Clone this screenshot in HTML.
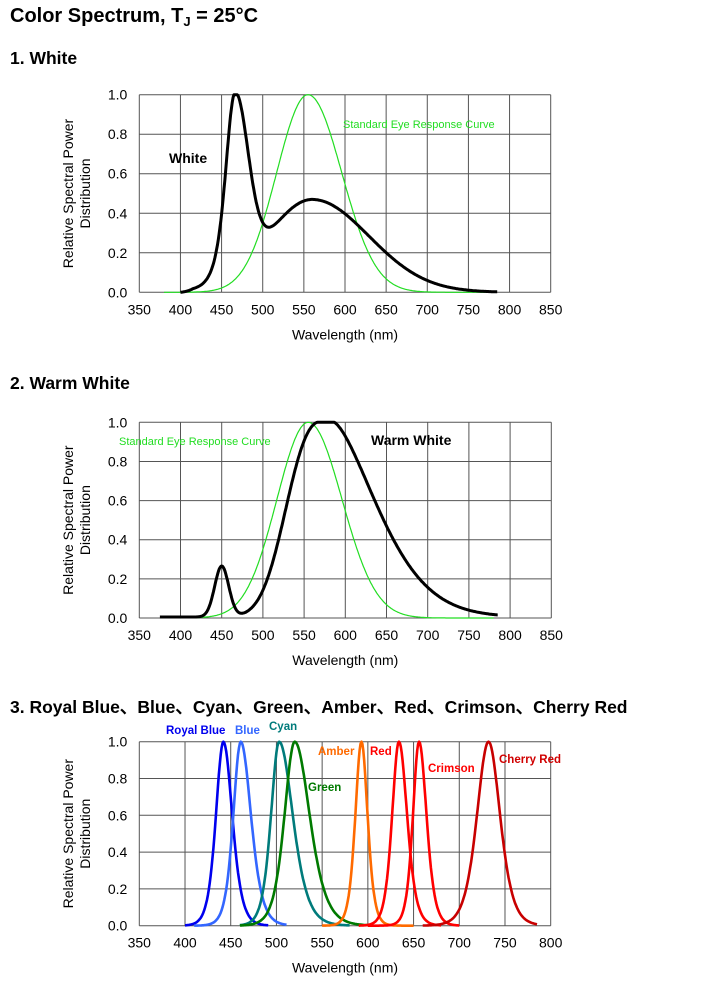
<!DOCTYPE html>
<html><head><meta charset="utf-8"><style>
body{margin:0;background:#fff;width:708px;height:981px;overflow:hidden;font-family:"Liberation Sans",Arial,sans-serif}
svg{position:absolute;left:0;top:0}
</style></head><body>
<svg id="s" width="708" height="981" viewBox="0 0 708 981" xmlns="http://www.w3.org/2000/svg" font-family="Liberation Sans, Arial, sans-serif">
<text x="10" y="22" font-size="20" font-weight="bold">Color Spectrum, T<tspan font-size="13" dy="4">J</tspan><tspan dy="-4"> = 25°C</tspan></text>
<text x="10" y="64" font-size="17.5" font-weight="bold">1. White</text>
<text x="10" y="389" font-size="17.5" font-weight="bold">2. Warm White</text>
<text x="10" y="713" font-size="17.5" font-weight="bold">3. Royal Blue、Blue、Cyan、Green、Amber、Red、Crimson、Cherry Red</text>
</svg>
<script>
const S=document.getElementById('s');const NS='http://www.w3.org/2000/svg';
function el(t,a,txt){const e=document.createElementNS(NS,t);for(const k in a)e.setAttribute(k,a[k]);if(txt!==undefined)e.textContent=txt;S.appendChild(e);return e;}
function chart(L,R,T,B,x0,x1){
 const nx=(x1-x0)/50;
 for(let i=0;i<=nx;i++){const x=L+(R-L)*i/nx;el('line',{x1:x,y1:T,x2:x,y2:B,stroke:'#555','stroke-width':1});
  el('text',{x:x,y:B+22,'font-size':14,'text-anchor':'middle',fill:'#000'},x0+50*i);}
 for(let j=0;j<=5;j++){const y=B-(B-T)*j/5;el('line',{x1:L,y1:y,x2:R,y2:y,stroke:'#555','stroke-width':1});
  el('text',{x:L-12,y:y+5,'font-size':14,'text-anchor':'end'},(j*0.2).toFixed(1));}
 el('text',{x:(L+R)/2,y:B+47,'font-size':14,'text-anchor':'middle'},'Wavelength (nm)');
 const cy=(T+B)/2;
 el('text',{x:0,y:0,'font-size':14,'text-anchor':'middle',transform:`translate(73,${cy}) rotate(-90)`},'Relative Spectral Power');
 el('text',{x:0,y:0,'font-size':14,'text-anchor':'middle',transform:`translate(90,${cy}) rotate(-90)`},'Distribution');
 return (f,a,b,col,w)=>{let d='';for(let n=a;n<=b;n+=1){const x=L+(n-x0)/(x1-x0)*(R-L);const y=B-Math.min(1,f(n))*(B-T);d+=(d?'L':'M')+x.toFixed(1)+' '+y.toFixed(1);}
  el('path',{d:d,fill:'none',stroke:col,'stroke-width':w,'stroke-linejoin':'round'});};
}
const g=(d,s)=>Math.exp(-d*d/(2*s*s));
const sech2=(d,w)=>{const c=Math.cosh(d/w);return 1/(c*c);};
const eye=n=>{const d=n-555;return g(d,d<0?38:41);};
// chart1
let p=chart(139.3,550.7,94.7,292.3,350,850);
p(eye,380,780,'#22dd22',1.2);
p(n=>{const d=n-466;const b=0.9*(d<0?sech2(d,14.8):g(d,16));const e=n-560;const ph=0.47*g(e,e<0?55:69);return (b+ph)*(n<415?Math.max(0,(n-400)/15):1);},400,785,'#000',3);
el('text',{x:343,y:128,'font-size':11,fill:'#22dd22'},'Standard Eye Response Curve');
el('text',{x:169,y:163,'font-size':14,'font-weight':'bold'},'White');
// chart2
p=chart(139.3,551.3,422.3,618,350,850);
p(eye,400,780,'#22dd22',1.2);
p(n=>{const d=n-450;const b=0.26*g(d,8.5);const e=n-578;let ph;if(Math.abs(e)<6)ph=1;else if(e<0)ph=Math.exp(-Math.pow((-e-6)/54.6,2.48));else ph=Math.exp(-Math.pow((e-6)/78,1.6));return b+ph+0.005;},375,785,'#000',3);
el('text',{x:119,y:445,'font-size':11,fill:'#22dd22'},'Standard Eye Response Curve');
el('text',{x:371,y:445,'font-size':14,'font-weight':'bold'},'Warm White');
// chart3
p=chart(139.3,550.7,741.7,925.7,350,800);
const sh=(c,wl,wr)=>n=>{const d=n-c;return sech2(d,d<0?wl:wr);};
const S3=[[442,400,491,11,13,'#0000ee'],[461,410,511,11,15,'#3366ff'],[503,460,580,12,20,'#007b7b'],[520,460,600,15,22,'#007a00'],[593,550,650,9,9,'#ff6a00'],[634,590,680,10,12,'#ff0000'],[656,600,700,9,11,'#ff0000'],[732,660,785,17,17,'#c80000']];
for(const s of S3)p(sh(s[0],s[3],s[4]),s[1],s[2],s[5],2.6);
const lab=[[166,734,'Royal Blue','#0000ee'],[235,734,'Blue','#3366ff'],[269,730,'Cyan','#007b7b'],[308,791,'Green','#007a00'],[318,755,'Amber','#ff6a00'],[370,755,'Red','#ff0000'],[428,772,'Crimson','#ff0000'],[499,763,'Cherry Red','#d00000']];
for(const l of lab)el('text',{x:l[0],y:l[1],'font-size':11.5,'font-weight':'bold',fill:l[3]},l[2]);
</script>
</body></html>
